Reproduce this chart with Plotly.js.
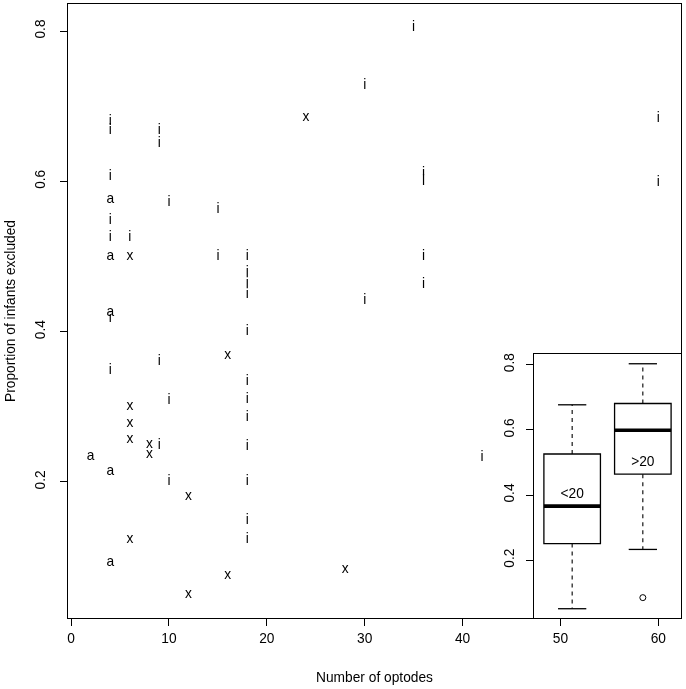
<!DOCTYPE html>
<html>
<head>
<meta charset="utf-8">
<script src="https://cdn.plot.ly/plotly-3.0.1.min.js"></script>
<style>html,body{margin:0;padding:0;background:#fff;}#chart{width:686px;height:689px;filter:grayscale(100%);}</style>
</head>
<body>
<div id="chart"></div>
<script>
// ---- main scatter data (Number of optodes vs proportion excluded), label = study type ----
var iX = [4,4,4,4,4,4,4, 6, 9,9,9,9, 10,10,10, 15,15, 18,18,18,18,18,18,18,18,18,18,18,18, 30,30, 35, 36,36,36,36, 42, 60,60];
var iY = [0.68,0.667,0.607,0.548,0.525,0.417,0.348, 0.525, 0.667,0.65,0.36,0.249, 0.572,0.308,0.2, 0.562,0.5,
          0.5,0.479,0.464,0.449,0.4,0.333,0.31,0.286,0.247,0.2,0.149,0.124, 0.727,0.442, 0.805, 0.61,0.6,0.5,0.463, 0.233, 0.683,0.598];
var aX = [2,4,4,4,4,4];
var aY = [0.2335,0.576,0.5,0.425,0.2136,0.0925];
var xX = [6,6,6,6,6, 8,8, 12,12, 16,16, 24, 28];
var xY = [0.5,0.30,0.278,0.256,0.124, 0.25,0.237, 0.181,0.05, 0.368,0.076, 0.685, 0.083];

// ---- inset boxplot stats ----
var boxGroups = ["<20", ">20"];
var boxPos = [1, 2];
var boxQ1 = [0.251, 0.464];
var boxMedian = [0.366, 0.599];
var boxQ3 = [0.526, 0.681];
var boxLow = [0.051, 0.233];
var boxHigh = [0.677, 0.803];
var boxLabelY = [0.4, 0.5];
var outX = [2];
var outY = [0.085];

var FONT = "Liberation Sans, Arial, Helvetica, sans-serif";
var FS = 13.75;

function letters(xs, ys, ch) {
  return {type:"scatter", mode:"text", x:xs, y:ys, text:xs.map(function(){return ch;}),
    textposition:"middle center", textfont:{family:FONT,size:FS,color:"#000"},
    xaxis:"x", yaxis:"y", hoverinfo:"x+y", showlegend:false};
}

var traces = [letters(iX,iY,"i"), letters(aX,aY,"a"), letters(xX,xY,"x")];

// boxes (whiskers drawn separately as dashed lines)
traces.push({type:"box", x:boxPos, q1:boxQ1, median:boxMedian, q3:boxQ3,
  lowerfence:boxQ1, upperfence:boxQ3, width:0.8, whiskerwidth:0,
  line:{color:"#000",width:1.3}, fillcolor:"rgba(255,255,255,0)",
  xaxis:"x2", yaxis:"y2", showlegend:false, boxpoints:false});

// whiskers
var wx=[], wy=[], sx=[], sy=[], mx=[], my=[];
for (var k=0;k<boxPos.length;k++){
  var p=boxPos[k];
  wx.push(p,p,null,p,p,null); wy.push(boxQ3[k],boxHigh[k],null,boxQ1[k],boxLow[k],null);
  sx.push(p-0.2,p+0.2,null,p-0.2,p+0.2,null); sy.push(boxHigh[k],boxHigh[k],null,boxLow[k],boxLow[k],null);
  mx.push(p-0.4,p+0.4,null); my.push(boxMedian[k],boxMedian[k],null);
}
traces.push({type:"scatter",mode:"lines",x:wx,y:wy,line:{color:"#000",width:1.1,dash:"4px,4px"},xaxis:"x2",yaxis:"y2",showlegend:false,hoverinfo:"skip"});
traces.push({type:"scatter",mode:"lines",x:sx,y:sy,line:{color:"#000",width:1.3},xaxis:"x2",yaxis:"y2",showlegend:false,hoverinfo:"skip"});
traces.push({type:"scatter",mode:"lines",x:mx,y:my,line:{color:"#000",width:3.6},xaxis:"x2",yaxis:"y2",showlegend:false,hoverinfo:"skip"});
traces.push({type:"scatter",mode:"markers",x:outX,y:outY,marker:{symbol:"circle-open",size:6,color:"#000",line:{width:1}},xaxis:"x2",yaxis:"y2",showlegend:false});
traces.push({type:"scatter",mode:"text",x:boxPos,y:boxLabelY,text:boxGroups,textposition:"middle center",
  textfont:{family:FONT,size:FS,color:"#000"},xaxis:"x2",yaxis:"y2",showlegend:false});

var axCommon = {showgrid:false, zeroline:false, showline:true, mirror:true, linecolor:"#000", linewidth:1.2,
  ticks:"outside", ticklen:7, tickwidth:1, tickcolor:"#000", tickfont:{family:FONT,size:FS,color:"#000"}};

var layout = {
  width:686, height:689,
  margin:{l:68, r:5, t:4, b:71},
  paper_bgcolor:"#fff", plot_bgcolor:"#fff",
  font:{family:FONT,size:FS,color:"#000"},
  xaxis: Object.assign({}, axCommon, {range:[-0.32,62.32], tickvals:[0,10,20,30,40,50,60], domain:[0,1],
    title:{text:"Number of optodes", font:{family:FONT,size:FS}, standoff:27}}),
  yaxis: Object.assign({}, axCommon, {range:[0.019,0.836], tickvals:[0.2,0.4,0.6,0.8], tickformat:".1f", tickangle:-90, domain:[0,1],
    ticklabelstandoff:9,
    title:{text:"Proportion of infants excluded", font:{family:FONT,size:FS}, standoff:14}}),
  xaxis2: {domain:[0.7602,1], anchor:"y2", range:[0.46,2.54], showgrid:false, zeroline:false, showline:true, mirror:true,
    linecolor:"#000", linewidth:1.2, showticklabels:false, ticks:""},
  yaxis2: Object.assign({}, axCommon, {domain:[0,0.43], anchor:"x2", range:[0.0225,0.833], tickvals:[0.2,0.4,0.6,0.8], tickformat:".1f", tickangle:-90,
    ticklabelstandoff:6}),
  showlegend:false
};

Plotly.newPlot("chart", traces, layout, {staticPlot:true, displayModeBar:false});
</script>
</body>
</html>
